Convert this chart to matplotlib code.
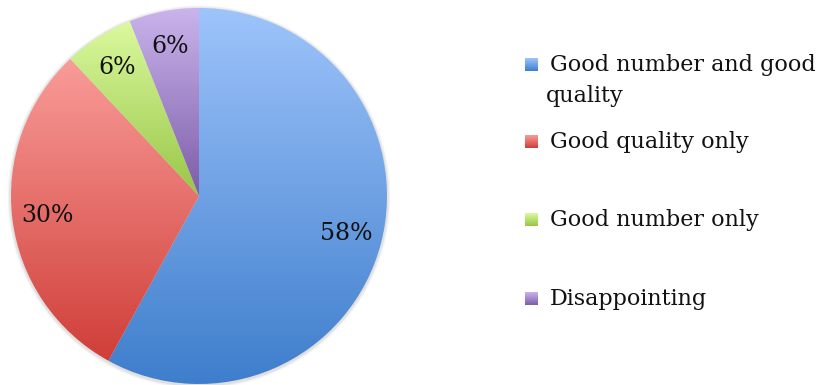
import numpy as np
import matplotlib.pyplot as plt
from matplotlib.colors import LinearSegmentedColormap

labels = ['Good number and good\nquality', 'Good quality only', 'Good number only', 'Disappointing']
shares = [58, 30, 6, 6]
# top / bottom colours of the vertical gradient on each slice
tops = ['#9ec4fb', '#f99c99', '#dbf99e', '#cab4ec']
bottoms = ['#3e7ecc', '#d03e38', '#98c648', '#7c5ca8']

plt.rcParams['font.family'] = ['DejaVu Serif']

W, H = 822, 385
fig = plt.figure(figsize=(W / 100, H / 100), dpi=100)
ax = fig.add_axes([0, 0, 1, 1])
ax.set_axis_off()

cx, cy, r = 199, H - 196, 188


def vgrad(top, bottom):
    return LinearSegmentedColormap.from_list('g', [bottom, top])


# faint shadow round the pie
for k, a in enumerate([0.05, 0.04, 0.03]):
    ax.add_patch(plt.Circle((cx, cy - 1), r + 1.5 + k, color='k', alpha=a, lw=0, zorder=0))

wedges, texts, autotexts = ax.pie(
    shares, startangle=90, counterclock=False, center=(cx, cy), radius=r,
    autopct='%d%%', pctdistance=0.81, frame=False,
    wedgeprops=dict(linewidth=0, facecolor='none'),
    textprops=dict(fontsize=17, color='#111111'))

grad = np.linspace(0, 1, 256).reshape(-1, 1)
for w, t, b in zip(wedges, tops, bottoms):
    ext = w.get_patch_transform().transform_path(w.get_path()).get_extents()
    im = ax.imshow(grad, cmap=vgrad(t, b), origin='lower', aspect='auto',
                   extent=[ext.x0, ext.x1, ext.y0, ext.y1], zorder=1)
    im.set_clip_path(w)
for t in autotexts:
    t.set_zorder(3)

# legend on the right: gradient square + label, wrapped lines indented
ys = [H - 65, H - 142, H - 220, H - 299]
for lab, y, t, b in zip(labels, ys, tops, bottoms):
    ax.imshow(grad, cmap=vgrad(t, b), origin='lower', aspect='auto',
              extent=[525, 538, y - 6.5, y + 6.5], zorder=2)
    first, *rest = lab.split('\n')
    ax.text(550, y, first, fontsize=16, va='center', ha='left', color='#111111')
    for i, line in enumerate(rest):
        ax.text(546, y - 31 * (i + 1), line, fontsize=16, va='center', ha='left', color='#111111')

ax.set_xlim(0, W)
ax.set_ylim(0, H)
ax.set_aspect('equal')
fig.savefig('out.png', dpi=100)
